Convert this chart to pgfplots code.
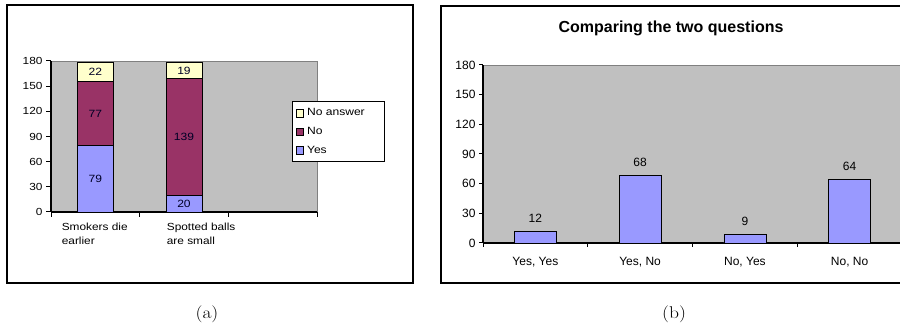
\documentclass[border=0pt]{standalone}
\usepackage{pgfplots}
\pgfplotsset{compat=1.18}
\usepackage{fontspec}
\newfontfamily\arialL[FakeStretch=1.15]{Liberation Sans}
\newfontfamily\arial{Liberation Sans}
\definecolor{plotgray}{HTML}{C0C0C0}
\definecolor{yesblue}{HTML}{9999FF}
\definecolor{nored}{HTML}{993366}
\definecolor{noans}{HTML}{FFFFCC}
\begin{document}
\begin{tikzpicture}[x=1pt,y=1pt]
\path[use as bounding box] (0,0) rectangle (900,328);
\draw[line width=1.6pt] (7,45) rectangle (413,323);
\draw[line width=1.6pt] (441,45) rectangle (910,322);
% ---------- left panel ----------
\begin{axis}[
  at={(51pt,116pt)}, anchor=south west, scale only axis,
  width=266pt, height=151pt,
  ybar stacked, bar width=36pt,
  xmin=-0.5, xmax=2.5, ymin=0, ymax=180,
  ytick={0,30,...,180},
  xtick={-0.5,0.5,1.5,2.5}, xticklabels={},
  extra x ticks={-0.38,0.805},
  extra x tick labels={{Smokers die\\earlier},{Spotted balls\\are small}},
  extra x tick style={major tick length=0pt,
     xticklabel style={anchor=north west, inner sep=0pt, align=left, yshift=-11pt}},
  axis lines=left,
  axis line style={-, line width=1.3pt},
  axis background/.style={fill=plotgray, draw=gray},
  tick style={black, line width=1pt},
  major tick length=5pt, tick align=outside,
  /pgf/number format/assume math mode=true,
  ticklabel style={font=\arialL\fontsize{10.3}{14}\selectfont},
  reverse legend,
  legend style={at={(0.906,0.735)}, anchor=north west, draw=black, line width=1.3pt,
     font=\arialL\fontsize{10.5}{12}\selectfont, row sep=6pt, inner xsep=3pt, inner ysep=5pt,
     legend cell align=left},
  legend image code/.code={\draw[#1, line width=0.4pt, draw=black] (0pt,-3.8pt) rectangle (7.5pt,3.8pt);},
]
\addplot[fill=yesblue, draw=black, line width=0.5pt] coordinates {(0,79) (1,20)};
\addplot[fill=nored, draw=black, line width=0.5pt] coordinates {(0,77) (1,139)};
\addplot[fill=noans, draw=black, line width=0.5pt] coordinates {(0,22) (1,19)};
\legend{\makebox[74pt][l]{\hspace{1.5pt}Yes}, \makebox[74pt][l]{\hspace{1.5pt}No}, \makebox[74pt][l]{\hspace{1.5pt}No answer}}
\end{axis}
\begin{axis}[
  at={(51pt,116pt)}, anchor=south west, scale only axis,
  width=266pt, height=151pt,
  xmin=-0.5, xmax=2.5, ymin=0, ymax=180, hide axis,
]
\addplot[draw=none, mark=none, nodes near coords, point meta=explicit symbolic,
  every node near coord/.append style={anchor=center, font=\arialL\fontsize{10.5}{12}\selectfont, text=black!85!blue}]
  coordinates {(0,39.5) [79] (0,117) [77] (0,167) [22] (1,10) [20] (1,89.5) [139] (1,168.5) [19]};
\end{axis}
% ---------- right panel ----------
\node[font=\arial\bfseries\fontsize{16}{18}\selectfont] at (671,300) {Comparing the two questions};
\begin{axis}[
  at={(483pt,85pt)}, anchor=south west, scale only axis,
  width=419pt, height=178pt,
  ybar, bar width=42pt,
  xmin=-0.5, xmax=3.5, ymin=0, ymax=180,
  ytick={0,30,...,180},
  xtick={-0.5,0.5,1.5,2.5,3.5}, xticklabels={},
  extra x ticks={0,1,2,3},
  extra x tick labels={{Yes, Yes},{Yes, No},{No, Yes},{No, No}},
  extra x tick style={major tick length=0pt, xticklabel style={yshift=-11pt}},
  axis lines=left,
  axis line style={-, line width=1.6pt},
  axis background/.style={fill=plotgray, draw=gray},
  tick style={black, line width=1pt},
  major tick length=4pt, tick align=outside,
  /pgf/number format/assume math mode=true,
  ticklabel style={font=\arial\fontsize{12}{13}\selectfont},
  nodes near coords,
  every node near coord/.append style={font=\arial\fontsize{12}{13}\selectfont, yshift=5pt},
]
\addplot[fill=yesblue, draw=black, line width=0.6pt] coordinates {(0,12) (1,68) (2,9) (3,64)};
\end{axis}
% ---------- captions ----------
\node[font=\fontsize{17}{19}\selectfont] at (207,14) {\scalebox{1.15}[1]{(a)}};
\node[font=\fontsize{17}{19}\selectfont] at (674,14) {\scalebox{1.15}[1]{(b)}};
\end{tikzpicture}
\end{document}
